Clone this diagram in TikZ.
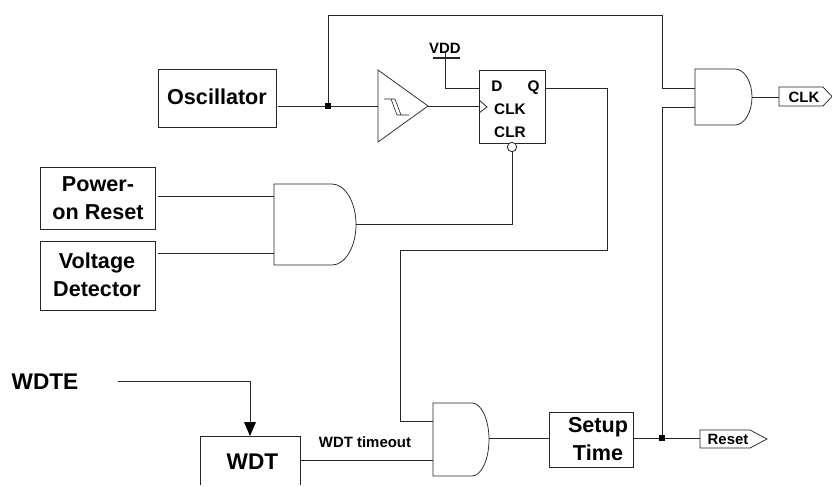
\documentclass[tikz,border=0pt]{standalone}
\usepackage{fontspec}
\setmainfont{Liberation Sans}
\usetikzlibrary{arrows.meta}
\tikzset{
  x=0.75pt,y=-0.75pt,
  wire/.style={draw=black!85,line width=0.6pt},
  blockbox/.style={draw=black!85,line width=0.7pt,fill=white},
  gatebox/.style={draw=black!85,line width=0.55pt,fill=white},
  lbl/.style={inner sep=0pt,font=\bfseries,align=center},
  big/.style={lbl,font=\fontsize{16.2}{20.6}\selectfont\bfseries},
  huge/.style={lbl,font=\fontsize{17}{20}\selectfont\bfseries,anchor=base},
  mid/.style={lbl,font=\fontsize{11.5}{14}\selectfont\bfseries,anchor=base},
  small/.style={lbl,font=\fontsize{11.2}{13}\selectfont\bfseries},
  dotj/.style={fill=black,draw=none,minimum size=4.5pt,inner sep=0pt,rectangle},
}
\newcommand{\andgate}[5]{% x0,y0,arc start x,y1,arc depth
  \draw[gatebox] (#1,#2) -- (#3,#2)
    .. controls ({#3+0.55*#5},#2) and ({#3+#5},{#2+(#4-#2)*0.225}) .. ({#3+#5},{(#2+#4)/2})
    .. controls ({#3+#5},{#2+(#4-#2)*0.775}) and ({#3+0.55*#5},#4) .. (#3,#4) -- (#1,#4) -- cycle;
}
\begin{document}
\begin{tikzpicture}
\useasboundingbox[fill=white] (0,0) rectangle (832,486);

% blocks
\draw[blockbox] (158,69) rectangle (276,127);
\node[big] (osc) at (217,97) {Oscillator};
\draw[blockbox] (40,167) rectangle (155,229);
\node[big] (por) at (98,198) {Power-\\on Reset};
\draw[blockbox] (40,241) rectangle (155,310);
\node[big] (vdet) at (97,275) {Voltage\\Detector};
\draw[blockbox] (549,412) rectangle (633,467);
\node[big] (setup) at (598,439) {Setup\\Time};
\draw[blockbox] (200,485) -- (200,436) -- (300,436) -- (300,485);
\node[huge] (wdt) at (252.5,469) {WDT};
\node[huge] (wdte) at (45,389) {WDTE};

% buffer
\draw[gatebox] (378,70) -- (428,106) -- (378,142) -- cycle;
\draw[wire,line width=0.45pt] (384,99) -- (395,99) -- (401,115);
\draw[wire,line width=0.45pt] (391,99) -- (397,115) -- (409,115);

% flip flop
\draw[blockbox] (479,70) rectangle (545,143);
\draw[wire] (479,100) -- (487,107) -- (479,113);
\node[mid] (d) at (497,91.5) {D};
\node[mid] (q) at (533.5,91.5) {Q};
\node[mid] (clkin) at (510,114) {CLK};
\node[mid] (clr) at (510,137) {CLR};
\draw[wire,fill=white] (512,147) circle (4.7);

% gates
\andgate{695}{69}{735}{125}{17}
\andgate{274}{184}{332}{265}{24}
\andgate{433}{403}{472}{476}{17}

% VDD
\node[small] (vdd) at (445,48) {VDD};
\draw[wire,line width=0.9pt] (433,58) -- (460,58);

% wires
\draw[wire] (278,106) -- (378,106);
\draw[wire] (328,106) -- (328,15) -- (662,15) -- (662,88) -- (695,88);
\draw[wire] (428,106) -- (479,106);
\draw[wire] (445,53) -- (445,88) -- (479,88);
\draw[wire] (545,88) -- (607,88) -- (607,250) -- (400,250) -- (400,421) -- (433,421);
\draw[wire] (158,196) -- (274,196);
\draw[wire] (158,253) -- (274,253);
\draw[wire] (356,224) -- (512,224) -- (512,152);
\draw[wire] (752,97) -- (779,97);
\draw[wire] (695,107) -- (662,107) -- (662,438);
\draw[wire] (300,460) -- (433,460);
\draw[wire] (489,438) -- (549,438);
\draw[wire] (633,438) -- (700,438);
\node[dotj] (j1) at (328,106) {};
\node[dotj] (j2) at (662,438) {};

% WDTE
\coordinate (wc) at (250,381);
\draw[wire] (118,381) -- (wc) -- (250,424);
\fill[black] (244,422) -- (256,422) -- (250,436) -- cycle;
\node[small] (wto) at (365,442) {WDT timeout};

% tags
\draw[gatebox] (779,87) -- (823,87) -- (832,96.5) -- (823,106) -- (779,106) -- cycle;
\node[small] (clkout) at (804,97) {CLK};
\draw[gatebox] (700,430) -- (750,430) -- (767,439) -- (750,448) -- (700,448) -- cycle;
\node[small] (reset) at (728,439) {Reset};
\end{tikzpicture}
\end{document}
